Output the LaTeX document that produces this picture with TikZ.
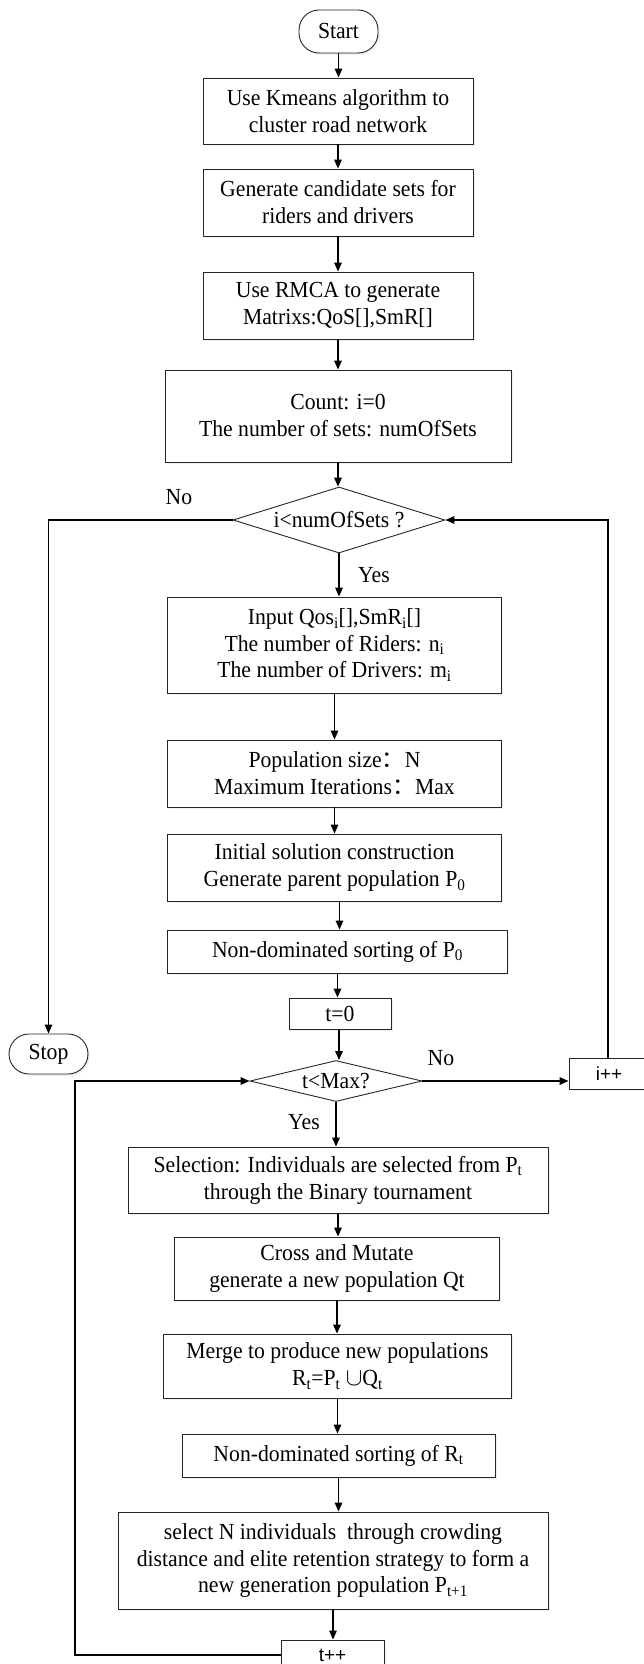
\documentclass[tikz,border=0pt]{standalone}
\usepackage{fontspec}
\setmainfont{Liberation Serif}[FakeStretch=0.9435]
\newfontfamily\cjk{Noto Sans CJK SC}
\newfontfamily\sansf{Liberation Sans}
\usetikzlibrary{shapes.geometric,arrows.meta,calc,shadows}
\newcommand{\sub}[1]{\textsubscript{#1}}
\begin{document}
\begin{tikzpicture}[x=1pt,y=-1pt,
  every node/.style={font=\fontsize{23}{27}\selectfont},
  shad/.style={drop shadow={shadow xshift=1.8pt, shadow yshift=-1.8pt, fill=black!12}},
  box/.style={draw=black!85, line width=0.9pt, fill=white, align=center, inner sep=0pt, shad},
  term/.style={box, rounded corners=20pt},
  dec/.style={draw=black!85, line width=0.9pt, fill=white, diamond, inner sep=0pt, align=center},
  arr/.style={line width=1.5pt, -{Triangle[length=9pt,width=7.5pt]}},
  lab/.style={inner sep=0pt}]
\fill[white] (0,0) rectangle (644,1664);
\useasboundingbox (0,0) rectangle (644,1664);

\node[term, minimum width=79pt, minimum height=43pt] (start) at (338.5,31.5) {Start};
\node[box, minimum width=270pt, minimum height=66pt] (b1) at (338,111) {Use Kmeans algorithm to\\cluster road network};
\node[box, minimum width=270pt, minimum height=67pt] (b2) at (338,202.5) {Generate candidate sets for\\riders and drivers};
\node[box, minimum width=270pt, minimum height=67pt] (b3) at (338,305.5) {Use RMCA to generate\\Matrixs:QoS[],SmR[]};
\node[box, minimum width=346pt, minimum height=92pt] (b4) at (338,416) {Count: i=0\\The number of sets: numOfSets};
\node[dec, minimum width=212pt, minimum height=66pt, aspect=3.2] (d1) at (339,520) {i<numOfSets ?};
\node[box, minimum width=334pt, minimum height=96pt, font=\fontsize{23}{26.4}\selectfont] (b5) at (334.5,645) {Input Qos\sub{i}[],SmR\sub{i}[]\\The number of Riders: n\sub{i}\\The number of Drivers: m\sub{i}};
\node[box, minimum width=334pt, minimum height=67pt] (b6) at (334.5,773.5) {Population size{\cjk ：}N\\Maximum Iterations{\cjk ：}Max};
\node[box, minimum width=334pt, minimum height=67pt] (b7) at (334.5,867.5) {Initial solution construction\\Generate parent population P\sub{0}};
\node[box, minimum width=340pt, minimum height=43pt] (b8) at (337.5,951.5) {Non-dominated sorting of P\sub{0}};
\node[box, minimum width=102pt, minimum height=31pt] (t0) at (340,1013.5) {t=0};
\node[dec, minimum width=172pt, minimum height=41pt, aspect=4.2] (d2) at (336,1081) {t<Max?};
\node[box, minimum width=80pt, minimum height=31pt, font=\sansf\fontsize{19}{22}\selectfont] (ipp) at (609,1073.5) {i++};
\node[term, minimum width=79pt, minimum height=40pt] (stop) at (48.5,1054) {Stop};
\node[box, minimum width=420pt, minimum height=66pt] (b9) at (338,1180) {Selection: Individuals are selected from P\sub{t}\\through the Binary tournament};
\node[box, minimum width=325pt, minimum height=63pt, font=\fontsize{23}{27.5}\selectfont] (b10) at (337,1268.5) {Cross and Mutate\\generate a new population Qt};
\node[box, minimum width=348pt, minimum height=64pt] (b11) at (337.5,1366) {Merge to produce new populations\\R\sub{t}=P\sub{t} $\cup$Q\sub{t}};
\node[box, minimum width=313pt, minimum height=43pt] (b12) at (338.5,1455.5) {Non-dominated sorting of R\sub{t}};
\node[box, minimum width=430pt, minimum height=97pt, font=\fontsize{23}{26.4}\selectfont] (b13) at (333,1560.5) {select N individuals\ \ through crowding\\distance and elite retention strategy to form a\\new generation population P\sub{t+1}};
\node[box, minimum width=103pt, minimum height=31pt, font=\sansf\fontsize{19}{22}\selectfont] (tpp) at (332.5,1655.5) {t++};

\coordinate (lx) at (75,1655);

\draw[arr] (start.south) -- (start.south |- b1.north);
\draw[arr] (b1.south) -- (b1.south |- b2.north);
\draw[arr] (b2.south) -- (b2.south |- b3.north);
\draw[arr] (b3.south) -- (b3.south |- b4.north);
\draw[arr] (b4.south) -- (b4.south |- d1.north);
\draw[arr] (d1.south) -- (d1.south |- b5.north);
\draw[arr] (b5.south) -- (b5.south |- b6.north);
\draw[arr] (b6.south) -- (b6.south |- b7.north);
\draw[arr] ([xshift=5pt]b7.south) -- ([xshift=5pt]b7.south |- b8.north);
\draw[arr] (b8.south) -- (b8.south |- t0.north);
\draw[arr] ([xshift=-1pt]t0.south) -- ([xshift=-1pt]t0.south |- d2.north);
\draw[arr] (d2.south) -- (d2.south |- b9.north);
\draw[arr] (b9.south) -- (b9.south |- b10.north);
\draw[arr] (b10.south) -- (b10.south |- b11.north);
\draw[arr] (b11.south) -- (b11.south |- b12.north);
\draw[arr] (b12.south) -- (b12.south |- b13.north);
\draw[arr] (b13.south) -- (b13.south |- tpp.north);

\draw[arr] (d1.west) -| (stop.north);
\draw[arr] ([xshift=-1pt]ipp.north) |- (d1.east);
\draw[arr] (d2.east) -- (d2.east -| ipp.west);
\draw[arr] (tpp.west |- lx) -- (lx) |- (d2.west);

\node[lab] (no1) at (179,497) {No};
\node[lab] (yes1) at (374,575) {Yes};
\node[lab] (no2) at (441,1058) {No};
\node[lab] (yes2) at (304,1122) {Yes};
\end{tikzpicture}
\end{document}
